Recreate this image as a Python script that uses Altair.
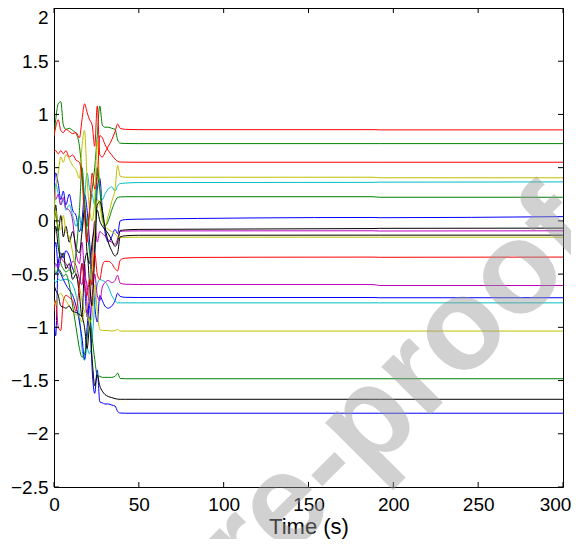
import altair as alt
import pandas as pd

# ---------------- data ----------------
T = [0, 1, 2.5, 4, 5.5, 7, 9, 11, 13, 15, 16.5, 18, 19.5, 21, 22.5, 24, 25.5, 27,
     28.5, 30, 32, 34, 36, 37.5, 39, 42, 50, 188, 192, 300]

RED_A = [0.80, 0.88, 0.95, 0.85, 0.83, 0.86, 0.84, 0.82, 0.83, 0.78,
         0.95, 1.10, 1.02, 0.95, 0.90, 0.70, 1.08, 0.62, 0.60, 0.64,
         0.70, 0.76, 0.84, 0.91, 0.87, 0.86, 0.857, 0.857, 0.855, 0.855]
GREEN_A = [0.80, 0.95, 1.10, 1.12, 0.90, 0.86, 0.87, 0.85, 0.82, 0.70,
           0.45, 0.15, -0.05, 0.10, 0.30, 0.50, 0.80, 1.08, 0.90, 0.88,
           0.88, 0.87, 0.86, 0.76, 0.73, 0.727, 0.726, 0.726, 0.726, 0.726]
RED_B = [0.65, 0.66, 0.63, 0.66, 0.63, 0.66, 0.60, 0.62, 0.57, 0.55,
         0.40, 0.05, -0.20, 0.10, 0.45, 0.30, 0.40, 0.80, 0.78, 0.72,
         0.66, 0.62, 0.58, 0.56, 0.553, 0.552, 0.551, 0.551, 0.551, 0.551]
YELLOW_A = [0.05, 0.30, 0.45, 0.60, 0.55, 0.62, 0.58, 0.52, 0.48, 0.40,
            0.70, 0.85, 0.40, 0.10, 0.00, 0.20, 0.75, 0.30, 0.05, -0.05,
            0.05, 0.18, 0.30, 0.52, 0.42, 0.41, 0.41, 0.41, 0.405, 0.405]
CYAN_A = [0.10, 0.35, 0.25, 0.15, 0.20, 0.10, 0.15, 0.05, -0.05, 0.05,
          -0.10, 0.20, 0.45, 0.30, 0.25, 0.15, 0.35, 0.30, 0.20, 0.25,
          0.30, 0.32, 0.28, 0.33, 0.35, 0.355, 0.36, 0.362, 0.364, 0.366]
GREEN_B = [0.10, 0.05, -0.10, -0.40, -0.45, -0.48, -0.46, -0.50, -0.30, 0.10,
           0.50, 0.20, -0.10, -0.30, -0.60, -0.20, 0.50, 0.30, 0.05, -0.05,
           0.00, 0.10, 0.18, 0.22, 0.225, 0.227, 0.227, 0.227, 0.222, 0.222]
BLUE_A = [0.30, 0.45, 0.35, 0.20, 0.28, 0.15, 0.25, 0.10, 0.05, -0.10,
          0.00, 0.25, 0.10, -0.20, -0.50, -0.30, 0.30, 0.40, 0.10, -0.10,
          -0.20, -0.15, -0.08, -0.12, 0.00, 0.012, 0.016, 0.032, 0.030, 0.040]
BLACK_A = [-0.05, 0.15, -0.10, 0.05, -0.15, -0.05, -0.20, -0.10, -0.25, -0.30,
           -0.10, 0.10, -0.30, -0.40, -0.20, -0.05, 0.10, 0.00, -0.05, -0.08,
           -0.12, -0.18, -0.24, -0.20, -0.09, -0.085, -0.08, -0.072, -0.070, -0.068]
MAGENTA_A = [0.30, 0.20, 0.25, 0.15, 0.22, 0.12, 0.10, 0.00, -0.30, -0.40,
             -0.20, -0.50, -0.60, -0.80, -0.30, 0.00, -0.20, -0.10, -0.12, -0.14,
             -0.18, -0.20, -0.22, -0.17, -0.10, -0.095, -0.094, -0.093, -0.095, -0.093]
BLACK_B = [-0.20, -0.05, -0.25, -0.35, -0.30, -0.45, -0.40, -0.55, -0.50, -0.70,
           -0.90, -0.40, -0.30, -0.60, -0.80, -0.30, 0.15, 0.18, 0.10, -0.05,
           -0.20, -0.28, -0.33, -0.30, -0.15, -0.14, -0.135, -0.134, -0.134, -0.134]
YELLOW_B = [0.00, 0.10, -0.05, -0.08, 0.05, -0.10, -0.15, -0.30, -0.50, -0.62,
            -0.75, -0.85, -0.80, -0.70, -0.45, -0.10, 0.20, 0.15, 0.00, -0.05,
            -0.08, -0.10, -0.12, -0.15, -0.155, -0.155, -0.153, -0.153, -0.153, -0.153]
RED_C = [-0.85, -0.75, -1.00, -1.03, -0.75, -0.70, -0.72, -0.75, -0.85, -0.60,
         -0.40, -0.60, -0.70, -0.55, -0.60, -0.30, -0.50, -0.55, -0.42, -0.38,
         -0.38, -0.40, -0.45, -0.47, -0.37, -0.35, -0.345, -0.340, -0.342, -0.340]
MAGENTA_B = [-0.50, -0.40, -0.45, -0.35, -0.38, -0.40, -0.45, -0.38, -0.42, -0.55,
             -0.60, -0.40, -0.80, -1.00, -0.70, -0.50, -0.70, -0.75, -0.62, -0.58,
             -0.56, -0.58, -0.56, -0.51, -0.585, -0.595, -0.598, -0.598, -0.607, -0.607]
BLUE_B = [-0.90, -1.08, -0.40, -0.30, -0.35, -0.28, -0.33, -0.45, -0.50, -0.60,
          -0.40, -0.60, -0.90, -0.70, -0.50, -0.80, -0.95, -0.70, -0.75, -0.80,
          -0.82, -0.80, -0.75, -0.68, -0.71, -0.718, -0.72, -0.72, -0.722, -0.722]
CYAN_B = [-0.55, -0.58, -0.55, -0.56, -0.55, -0.55, -0.56, -0.60, -0.70, -0.90,
          -1.20, -1.31, -1.20, -1.25, -1.10, -0.80, -0.60, -0.55, -0.56, -0.57,
          -0.62, -0.70, -0.75, -0.77, -0.77, -0.77, -0.77, -0.77, -0.77, -0.77]
YELLOW_C = [-0.75, -0.80, -0.70, -0.68, -0.72, -0.75, -0.80, -0.85, -0.88, -0.90,
            -0.95, -0.85, -0.88, -0.95, -0.90, -0.60, -0.85, -1.02, -1.03, -1.03,
            -1.03, -1.035, -1.03, -1.02, -1.035, -1.035, -1.035, -1.035, -1.035, -1.035]
GREEN_C = [-0.40, -0.50, -0.45, -0.48, -0.52, -0.50, -0.60, -0.80, -1.00, -1.20,
           -1.28, -1.25, -1.10, -0.90, -1.10, -1.30, -1.45, -1.46, -1.47, -1.47,
           -1.47, -1.47, -1.46, -1.43, -1.48, -1.483, -1.483, -1.483, -1.483, -1.483]
BLACK_C = [-0.60, -0.65, -0.70, -0.80, -0.81, -0.82, -0.80, -0.85, -0.86, -0.88,
           -0.90, -1.00, -1.20, -1.00, -1.30, -1.55, -1.45, -1.55, -1.60, -1.63,
           -1.65, -1.66, -1.67, -1.675, -1.676, -1.676, -1.676, -1.676, -1.676, -1.676]
BLUE_C = [-0.30, -0.20, -0.45, -0.50, -0.55, -0.60, -0.65, -0.70, -0.80, -0.95,
          -1.10, -1.30, -1.00, -0.80, -1.40, -1.62, -1.40, -1.70, -1.71, -1.72,
          -1.72, -1.73, -1.74, -1.79, -1.805, -1.807, -1.807, -1.807, -1.807, -1.807]

SERIES_NAMES = ["b1", "g1", "r1", "c1", "m1", "y1", "k1",
                "b2", "g2", "r2", "c2", "m2", "y2", "k2",
                "b3", "g3", "r3", "y3", "k3"]
SERIES_VALUES = [BLUE_A, GREEN_A, RED_A, CYAN_A, MAGENTA_A, YELLOW_A, BLACK_A,
                 BLUE_B, GREEN_B, RED_B, CYAN_B, MAGENTA_B, YELLOW_B, BLACK_B,
                 BLUE_C, GREEN_C, RED_C, YELLOW_C, BLACK_C]
SERIES_COLORS = ["#0000ff", "#008000", "#ff0000", "#00bfbf", "#bf00bf", "#bfbf00", "#000000",
                 "#0000ff", "#008000", "#ff0000", "#00bfbf", "#bf00bf", "#bfbf00", "#000000",
                 "#0000ff", "#008000", "#ff0000", "#bfbf00", "#000000"]

X_TICKS = [0, 50, 100, 150, 200, 250, 300]
Y_TICKS = [-2.5, -2, -1.5, -1, -0.5, 0, 0.5, 1, 1.5, 2]
X_TITLE = "Time (s)"
WATERMARK = "Pre-proof"

# ---------------- build tables ----------------
rows = []
for name, vals in zip(SERIES_NAMES, SERIES_VALUES, strict=True):
    for t, v in zip(T, vals, strict=True):
        rows.append({"series": name, "t": t, "v": v})
df = pd.DataFrame(rows)

W, H = 509, 479
FONT = "Liberation Sans"

xscale = alt.Scale(domain=[0, 300], nice=False, zero=False)
yscale = alt.Scale(domain=[-2.5, 2], nice=False, zero=False)

lines = alt.Chart(df).mark_line(strokeWidth=1, clip=True, interpolate="monotone").encode(
    x=alt.X("t:Q", scale=xscale,
            axis=alt.Axis(values=X_TICKS, title=X_TITLE, grid=False, ticks=False, tickSize=0,
                          domain=False, labelFont=FONT, labelFontSize=19, labelColor="black",
                          labelPadding=8, titleFont=FONT, titleFontSize=22,
                          titleFontWeight="normal", titleColor="black", titlePadding=2,
                          labelFlush=False,
                          labelOffset={"condition": {"test": "datum.value === 300",
                                                     "value": -8},
                                       "value": 0})),
    y=alt.Y("v:Q", scale=yscale,
            axis=alt.Axis(values=Y_TICKS, title=None, grid=False, ticks=False, tickSize=0,
                          domain=False, labelFont=FONT, labelFontSize=19, labelColor="black",
                          labelPadding=6, format="~g", labelFlush=False,
                          labelBaseline={"condition": {"test": "datum.value === 2",
                                                       "value": "top"},
                                         "value": "middle"})),
    color=alt.Color("series:N", scale=alt.Scale(domain=SERIES_NAMES, range=SERIES_COLORS),
                    legend=None),
    detail="series:N",
)

xt = pd.DataFrame({"tick": X_TICKS})
yt = pd.DataFrame({"tick": Y_TICKS})
TL = 5
xticks_bottom = alt.Chart(xt).mark_rule(color="black", strokeWidth=1).encode(
    x=alt.X("tick:Q", scale=xscale), y=alt.value(H), y2=alt.value(H - TL))
xticks_top = alt.Chart(xt).mark_rule(color="black", strokeWidth=1).encode(
    x=alt.X("tick:Q", scale=xscale), y=alt.value(0), y2=alt.value(TL))
yticks_left = alt.Chart(yt).mark_rule(color="black", strokeWidth=1).encode(
    y=alt.Y("tick:Q", scale=yscale), x=alt.value(0), x2=alt.value(TL))
yticks_right = alt.Chart(yt).mark_rule(color="black", strokeWidth=1).encode(
    y=alt.Y("tick:Q", scale=yscale), x=alt.value(W), x2=alt.value(W - TL))

wm = alt.Chart(pd.DataFrame({"label": [WATERMARK]})).mark_text(
    angle=315, fontSize=130, font=FONT, fontWeight="bold", color="#9a9a9a", opacity=0.45,
    align="center", baseline="middle").encode(
    text="label:N", x=alt.value(314), y=alt.value(414))

chart = alt.layer(lines, xticks_bottom, xticks_top, yticks_left, yticks_right, wm).properties(
    width=W, height=H,
    autosize=alt.AutoSizeParams(type="none"),
    padding={"left": 46, "top": 0, "right": 8, "bottom": 52},
).configure_view(stroke="black", strokeWidth=1).resolve_scale(color="independent")

chart.save("out.html", embed_options={"renderer": "svg", "actions": False})
